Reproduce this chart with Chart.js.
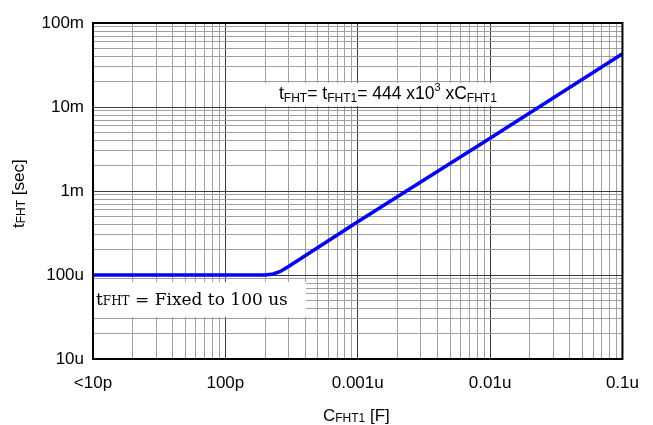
<!DOCTYPE html>
<html lang="en">
<head>
  <meta charset="UTF-8" />
  <title>tFHT vs CFHT1</title>
  <script src="https://cdn.jsdelivr.net/npm/chart.js"></script>
  <style>
    body { margin: 0; background: #fff; }
    .wrap { width: 653px; height: 425px; position: relative; }
  </style>
</head>
<body>
  <div class="wrap"><canvas id="chart"></canvas></div>

  <script>
    // data
    const capF = [1e-11, 2e-10, 2.3e-10, 2.6e-10, 3e-10, 1e-9, 1e-8, 1e-7];
    const tSec = [1e-4, 1e-4, 1.03e-4, 1.1e-4, 1.26e-4, 4.3e-4, 4.25e-3, 4.3e-2];

    const xTickVals = [1e-11, 1e-10, 1e-9, 1e-8, 1e-7];
    const xTickLabels = ['<10p', '100p', '0.001u', '0.01u', '0.1u'];
    const yTickVals = [1e-5, 1e-4, 1e-3, 1e-2, 1e-1];
    const yTickLabels = ['10u', '100u', '1m', '10m', '100m'];

    const isDecade = v => Math.abs(Math.log10(v) - Math.round(Math.log10(v))) < 1e-6;

    function logTicks(vals) {
      const out = [];
      for (let i = 0; i < vals.length; i++) {
        out.push({ value: vals[i] });
        if (i < vals.length - 1) {
          for (let k = 2; k <= 9; k++) out.push({ value: vals[i] * k });
        }
      }
      return out;
    }

    function labelFor(vals, labels) {
      return v => {
        if (!isDecade(v)) return '';
        const i = vals.findIndex(d => Math.abs(Math.log10(d) - Math.log10(v)) < 1e-6);
        return i >= 0 ? labels[i] : '';
      };
    }

    const gridColor = ctx => (ctx.tick && isDecade(ctx.tick.value)) ? '#3c3c3c' : '#a0a0a0';

    // draws a run of text pieces, each with its own font and vertical shift
    function drawSub(ctx, x, y, parts) {
      for (const p of parts) {
        ctx.font = p[1];
        ctx.fillText(p[0], x, y + (p[2] || 0));
        x += ctx.measureText(p[0]).width;
      }
      return x;
    }

    const SANS = '"Liberation Sans", Arial, sans-serif';
    const SERIF = '"DejaVu Serif", "Liberation Serif", serif';

    const decor = {
      id: 'decor',
      beforeDatasetsDraw(chart) {
        const { ctx, chartArea: a } = chart;
        ctx.save();
        ctx.fillStyle = '#fff';
        ctx.fillRect(265, 83, 258, 23);
        ctx.fillRect(a.left, 282, 306 - a.left, 35);
        ctx.restore();
      },
      afterDraw(chart) {
        const { ctx, chartArea: a } = chart;
        ctx.save();
        ctx.strokeStyle = '#000';
        ctx.lineWidth = 2;
        ctx.strokeRect(a.left, a.top, a.right - a.left, a.bottom - a.top);

        ctx.fillStyle = '#000';
        ctx.textBaseline = 'alphabetic';
        const big = '17px ' + SANS;
        const sub = '12px ' + SANS;
        const sup = '11px ' + SANS;

        // formula box
        drawSub(ctx, 279, 99, [
          ['t', '17.5px ' + SANS], ['FHT', sub, 3], ['= t', '17.5px ' + SANS], ['FHT1', sub, 3],
          ['= 444 x10', '17.5px ' + SANS], ['3', sup, -8], [' xC', '17.5px ' + SANS], ['FHT1', sub, 3]
        ]);

        // fixed box
        drawSub(ctx, 96, 305, [
          ['t', '17px ' + SERIF], ['FHT', '12px ' + SERIF], [' = Fixed to 100 us', '17px ' + SERIF]
        ]);

        // x title
        drawSub(ctx, 323, 421, [['C', big], ['FHT1', sub, 1], [' [F]', big]]);

        // y title
        ctx.translate(24, 228);
        ctx.rotate(-Math.PI / 2);
        drawSub(ctx, 0, 0, [['t', big], ['FHT', sub, 1], [' [sec]', big]]);
        ctx.restore();
      }
    };

    new Chart(document.getElementById('chart'), {
      type: 'line',
      data: {
        datasets: [{
          data: capF.map((c, i) => ({ x: c, y: tSec[i] })),
          borderColor: '#0000ff',
          borderWidth: 3.5,
          pointRadius: 0,
          tension: 0,
          fill: false
        }]
      },
      options: {
        responsive: true,
        maintainAspectRatio: false,
        animation: false,
        layout: { padding: { top: 23, right: 30, left: 0, bottom: 0 } },
        plugins: { legend: { display: false }, tooltip: { enabled: false } },
        scales: {
          x: {
            type: 'logarithmic',
            min: xTickVals[0],
            max: xTickVals[xTickVals.length - 1],
            afterBuildTicks: s => { s.ticks = logTicks(xTickVals); },
            afterFit: s => { s.height = 66; },
            grid: { color: gridColor, lineWidth: 1, drawTicks: false },
            border: { display: false },
            ticks: {
              autoSkip: false,
              maxRotation: 0,
              padding: 14,
              color: '#000',
              font: { family: SANS, size: 17 },
              callback: labelFor(xTickVals, xTickLabels)
            }
          },
          y: {
            type: 'logarithmic',
            min: yTickVals[0],
            max: yTickVals[yTickVals.length - 1],
            afterBuildTicks: s => { s.ticks = logTicks(yTickVals); },
            afterFit: s => { s.width = 93; },
            grid: { color: gridColor, lineWidth: 1, drawTicks: false },
            border: { display: false },
            ticks: {
              autoSkip: false,
              padding: 9,
              color: '#000',
              font: { family: SANS, size: 17 },
              callback: labelFor(yTickVals, yTickLabels)
            }
          }
        }
      },
      plugins: [decor]
    });
  </script>
</body>
</html>
